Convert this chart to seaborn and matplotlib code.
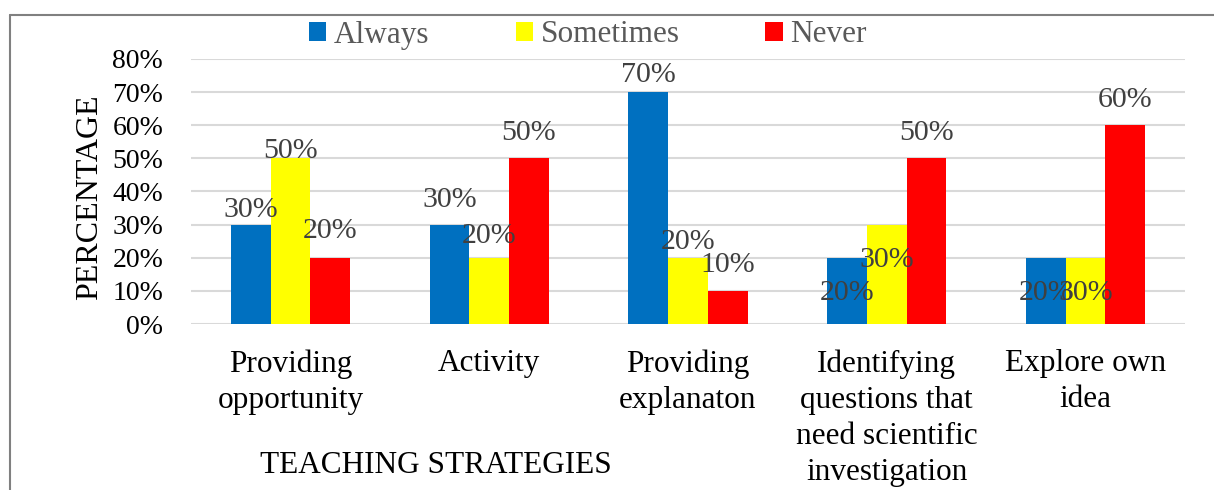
import matplotlib
matplotlib.use("Agg")
import matplotlib.pyplot as plt
from matplotlib.lines import Line2D
import seaborn as sns
import pandas as pd

# ---- data ----
categories = ["Providing\nopportunity", "Activity", "Providing\nexplanaton",
              "Identifying\nquestions that\nneed scientific\ninvestigation",
              "Explore own\nidea"]
series_names = ["Always", "Sometimes", "Never"]
always = [30, 30, 70, 20, 20]
sometimes = [50, 20, 20, 30, 20]
never = [20, 50, 10, 50, 60]
# data-label texts as printed in the source chart
always_lbl = ["30%", "30%", "70%", "20%", "20%"]
sometimes_lbl = ["50%", "20%", "20%", "30%", "30%"]
never_lbl = ["20%", "50%", "10%", "50%", "60%"]
# data-label baselines (in % units) as they appear in the source chart
always_lbl_y = [32.4, 35.3, 73.2, 7.2, 7.3]
sometimes_lbl_y = [50.0, 24.6, 22.7, 17.2, 7.3]
never_lbl_y = [25.9, 55.6, 15.8, 55.6, 65.6]
yticks = [0, 10, 20, 30, 40, 50, 60, 70, 80]

colors = ["#0070C0", "#FFFF00", "#FF0000"]

sns.set_theme(style="white")
plt.rcParams["font.family"] = ["Liberation Serif", "DejaVu Serif"]

df = pd.DataFrame({
    "category": categories * 3,
    "series": [s for s in series_names for _ in categories],
    "value": always + sometimes + never,
})

W, H = 1214, 490
fig = plt.figure(figsize=(W / 100, H / 100), dpi=100)
ax = fig.add_axes([191 / W, 1 - 324 / H, (1185 - 191) / W, (324 - 59) / H])

sns.barplot(data=df, x="category", y="value", hue="series",
            palette=colors, width=0.6, saturation=1, ax=ax,
            order=categories, hue_order=series_names, legend=True,
            linewidth=0)

ax.set_ylim(0, 80)
ax.set_xlim(-0.5, 4.5)
ax.set_yticks(yticks)
ax.set_yticklabels([f"{v}%" for v in yticks], fontsize=20, color="black")
ax.tick_params(axis="y", length=0, pad=20)
ax.tick_params(axis="x", length=0, pad=18, labelsize=22.5, labelcolor="black")
for t in ax.get_xticklabels():
    t.set_linespacing(1.32)
ax.grid(axis="y", color="#d9d9d9", linewidth=1.5)
ax.set_axisbelow(True)
for s in ax.spines.values():
    s.set_visible(False)
ax.set_xlabel("")
ax.set_ylabel("")

# data labels
label_texts = [always_lbl, sometimes_lbl, never_lbl]
label_ys = [always_lbl_y, sometimes_lbl_y, never_lbl_y]
for cont, texts, ys in zip(ax.containers, label_texts, label_ys):
    for bar, txt, yy in zip(cont, texts, ys):
        ax.text(bar.get_x() + bar.get_width() / 2, yy, txt,
                ha="center", va="baseline", fontsize=21.5, color="#404040")

# legend
handles, labels = ax.get_legend_handles_labels()
if ax.legend_:
    ax.legend_.remove()
leg = fig.legend(handles, labels, loc="center", bbox_to_anchor=(588 / W, 1 - 35 / H),
                 ncol=3, frameon=False, fontsize=22.5, handlelength=0.55,
                 handleheight=0.55, handletextpad=0.25, columnspacing=2.75,
                 borderpad=0, labelcolor="#595959")

# axis titles
fig.text(436 / W, 1 - 473 / H, "TEACHING STRATEGIES", ha="center", va="baseline",
         fontsize=22.5, color="black")
fig.text(97 / W, 1 - 197.5 / H, "PERCENTAGE", rotation=90, rotation_mode="anchor",
         ha="center", va="baseline", fontsize=23, color="black")

# outer frame (left and top edges visible)
fig.add_artist(Line2D([10 / W, 10 / W], [0, 1 - 15 / H], transform=fig.transFigure,
                      color="#808080", linewidth=1.5))
fig.add_artist(Line2D([10 / W, 1], [1 - 15 / H, 1 - 15 / H], transform=fig.transFigure,
                      color="#808080", linewidth=1.5))

fig.savefig("out.png", dpi=100, facecolor="white")
